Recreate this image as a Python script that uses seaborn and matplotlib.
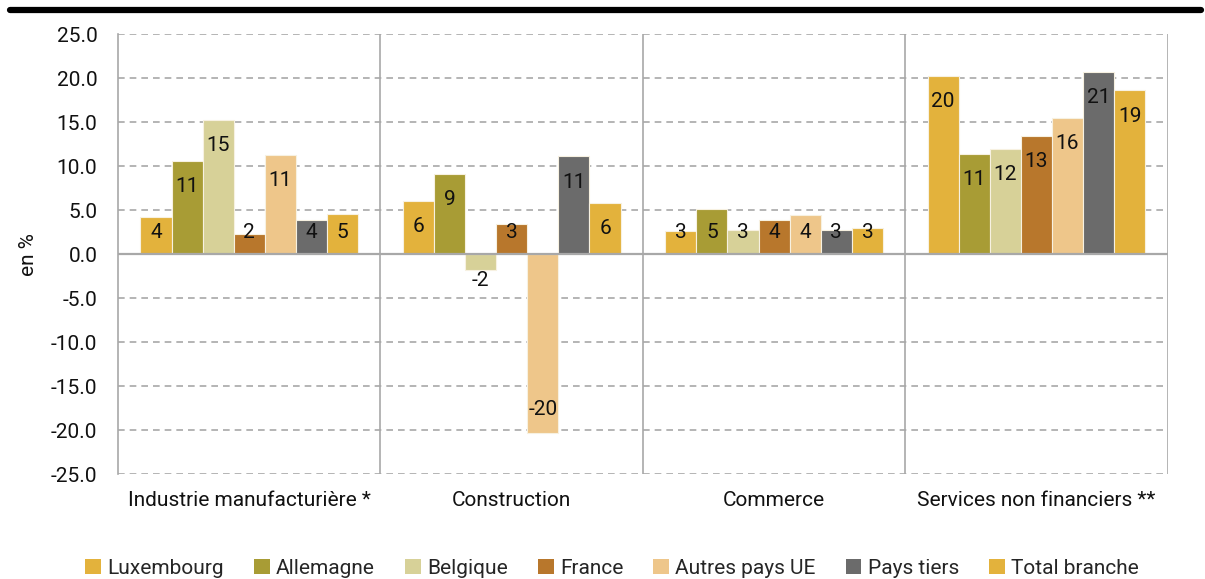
import numpy as np
import pandas as pd
import seaborn as sns
import matplotlib.pyplot as plt
from matplotlib.lines import Line2D
from matplotlib.patches import Patch
from matplotlib import font_manager

# data
branches = ['Industrie manufacturière *', 'Construction', 'Commerce', 'Services non financiers **']
origines = ['Luxembourg', 'Allemagne', 'Belgique', 'France', 'Autres pays UE', 'Pays tiers', 'Total branche']
luxembourg = [4.2, 6.0, 2.6, 20.3]
allemagne = [10.6, 9.1, 5.1, 11.4]
belgique = [15.3, -1.8, 2.7, 11.9]
france = [2.3, 3.4, 3.9, 13.4]
autres_ue = [11.3, -20.3, 4.4, 15.5]
pays_tiers = [3.9, 11.1, 2.8, 20.7]
total = [4.6, 5.8, 3.0, 18.6]
yticks = np.arange(-25, 26, 5)

colors = ['#E3B23C', '#A89C35', '#D7D198', '#B8772C', '#EEC68A', '#6B6B6B', '#E3B23C']

sns.set_style('white')
names = set(f.name for f in font_manager.fontManager.ttflist)
fam = 'Roboto' if 'Roboto' in names else 'DejaVu Sans'
plt.rcParams['font.family'] = [fam, 'DejaVu Sans']
plt.rcParams['axes.unicode_minus'] = False
fs = 15

series = [luxembourg, allemagne, belgique, france, autres_ue, pays_tiers, total]
df = pd.DataFrame({
    'branche': branches * len(origines),
    'origine': np.repeat(origines, len(branches)),
    'valeur': np.concatenate(series),
})

fig = plt.figure(figsize=(12.05, 5.79), dpi=100)
ax = fig.add_axes([0.098, 0.181, 0.871, 0.760])

sns.barplot(data=df, x='branche', y='valeur', hue='origine', order=branches,
            hue_order=origines, palette=dict(zip(origines, colors)), width=0.83,
            edgecolor='#f7f1e1', linewidth=0.8, ax=ax, legend=False, errorbar=None,
            saturation=1, zorder=3)

# data labels
for cont, vals in zip(ax.containers, series):
    for bar, v in zip(cont, vals):
        x = bar.get_x() + bar.get_width() / 2
        if v >= 0:
            y = max(v - 2.9, 2.5)
        else:
            y = min(v + 2.7, -3.0)
        ax.text(x, y, f'{v:.0f}', ha='center', va='center', fontsize=fs, color='#111111', zorder=5)

ax.set_ylim(-25, 25)
ax.set_xlim(-0.5, 3.5)
ax.set_yticks(yticks)
ax.set_yticklabels([f'{t:.1f}' for t in yticks], fontsize=fs, color='#111111')
ax.tick_params(axis='y', length=8, width=1, color='#a0a0a0', pad=7)
ax.tick_params(axis='x', length=0, labelsize=fs, pad=12, labelcolor='#111111')
ax.set_xlabel('')
ax.set_ylabel('en %', fontsize=fs, color='#111111', labelpad=9)

for t in yticks:
    if t == 0:
        ax.axhline(0, color='#a8a8a8', lw=1.6, zorder=4)
    else:
        ax.axhline(t, color='#a8a8a8', lw=1.2, ls=(0, (4, 3)), zorder=1)
for xs in [0.5, 1.5, 2.5, 3.5]:
    ax.axvline(xs, color='#a8a8a8', lw=1.2, zorder=1)

for s in ['top', 'bottom', 'right']:
    ax.spines[s].set_visible(False)
ax.spines['left'].set_color('#a8a8a8')
ax.spines['left'].set_linewidth(1.2)

# thick rule at the top
fig.add_artist(Line2D([0.008, 0.997], [0.983, 0.983], color='black', lw=4.5))

handles = [Patch(facecolor=c, edgecolor='none') for c in colors]
fig.legend(handles, origines, loc='lower center', bbox_to_anchor=(0.508, -0.03), ncol=7,
           frameon=False, fontsize=fs, handlelength=0.75, handleheight=0.75,
           handletextpad=0.3, columnspacing=1.45)

plt.savefig('out.png', dpi=100)
